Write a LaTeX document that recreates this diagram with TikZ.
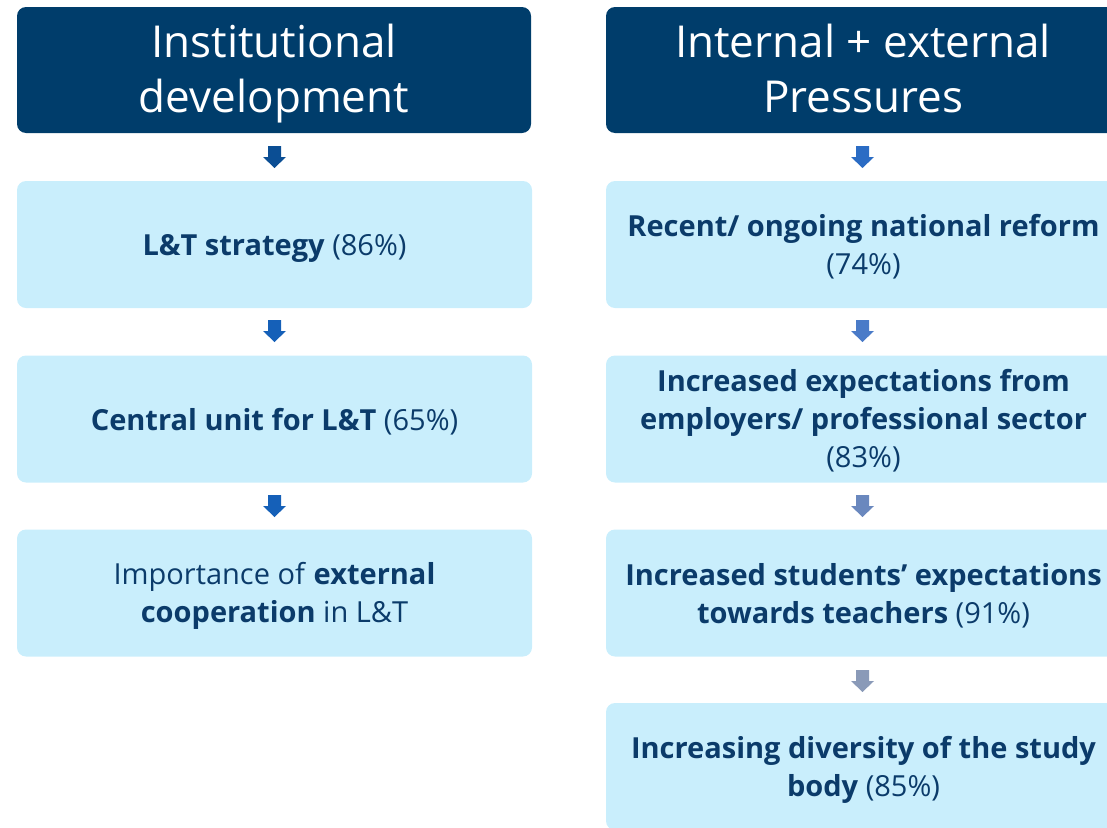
\documentclass[tikz,border=0pt]{standalone}
\usepackage{fontspec}
\setmainfont{Open Sans}
\definecolor{navy}{HTML}{003D6B}
\definecolor{boxfill}{HTML}{C9EEFC}
\definecolor{boxtext}{HTML}{0B3B6A}
\definecolor{arrA}{HTML}{0B4E94}
\definecolor{arrB}{HTML}{1560B8}
\definecolor{arrC}{HTML}{2B6CC4}
\definecolor{arrD}{HTML}{4A7BC8}
\definecolor{arrE}{HTML}{6A88BE}
\definecolor{arrF}{HTML}{8A9AB8}
\tikzset{
  header/.style={fill=navy, rounded corners=9pt, minimum width=514pt, minimum height=126pt, inner sep=0pt},
  headtext/.style={text=white, align=center, font=\fontsize{44}{55}\selectfont, inner sep=0pt},
  itembox/.style={fill=boxfill, rounded corners=9pt, minimum width=515pt, minimum height=127pt, inner sep=0pt},
  itemtext/.style={text=boxtext, align=center, font=\fontsize{29}{38}\selectfont, inner sep=0pt},
  % block arrow pointing down, drawn around a coordinate at its centre
  blockarrow/.pic={
    \fill[pic actions] (-6.5,-11) -- (6.5,-11) -- (6.5,0) -- (11.5,0) -- (0,11) -- (-11.5,0) -- (-6.5,0) -- cycle;
  }
}
\begin{document}
\begin{tikzpicture}[x=1pt,y=-1pt]
\useasboundingbox (0,0) rectangle (1107,827);
\clip (0,0) rectangle (1107,827);
% left column: institutional development
\node[header] (h1) at (274,70) {};
\node[headtext] (h1t) at ([yshift=-4pt]h1.center) {Institutional\\development};
\node[itembox] (l1) at (274.5,244.5) {};
\node[itemtext] (l1t) at ([yshift=-3.5pt]l1.center) {\textbf{L\&T strategy} (86\%)};
\node[itembox] (l2) at (274.5,419) {};
\node[itemtext] (l2t) at ([yshift=-3pt]l2.center) {\textbf{Central unit for L\&T} (65\%)};
\node[itembox] (l3) at (274.5,593) {};
\node[itemtext] (l3t) at ([yshift=-3pt]l3.center) {Importance of \textbf{external}\\\textbf{cooperation} in L\&T};
\pic[fill=arrA] (a1) at (274.5,157) {blockarrow};
\pic[fill=arrB] (a2) at (274.5,331) {blockarrow};
\pic[fill=arrB] (a3) at (274.5,506) {blockarrow};
% right column: internal and external pressures
\node[header] (h2) at (863,70) {};
\node[headtext] (h2t) at ([yshift=-4pt]h2.center) {Internal + external\\Pressures\vphantom{p}};
\node[itembox] (r1) at (863.5,244.5) {};
\node[itemtext] (r1t) at ([yshift=-2.5pt]r1.center) {\textbf{Recent/ ongoing national reform}\\(74\%)};
\node[itembox] (r2) at (863.5,419) {};
\node[itemtext] (r2t) at ([yshift=-2pt]r2.center) {\textbf{Increased expectations from}\\\textbf{employers/ professional sector}\\(83\%)};
\node[itembox] (r3) at (863.5,593) {};
\node[itemtext] (r3t) at ([yshift=-3pt]r3.center) {\textbf{Increased students’ expectations}\\\textbf{towards teachers} (91\%)};
\node[itembox] (r4) at (863.5,766.5) {};
\node[itemtext] (r4t) at ([yshift=-3.5pt]r4.center) {\textbf{Increasing diversity of the study}\\\textbf{body} (85\%)};
\pic[fill=arrC] (b1) at (862.5,157) {blockarrow};
\pic[fill=arrD] (b2) at (862.5,331) {blockarrow};
\pic[fill=arrE] (b3) at (862.5,506) {blockarrow};
\pic[fill=arrF] (b4) at (862.5,681) {blockarrow};
\end{tikzpicture}
\end{document}
